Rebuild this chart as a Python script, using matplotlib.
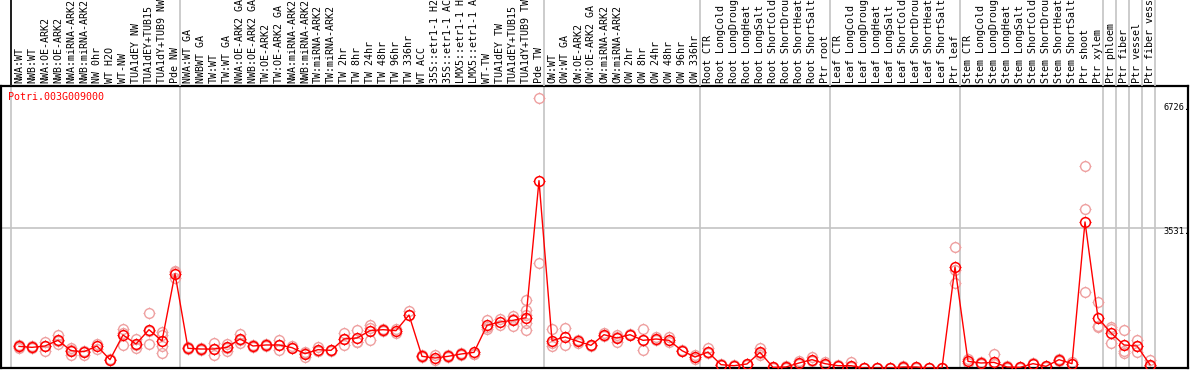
import matplotlib
matplotlib.use("Agg")
import matplotlib.pyplot as plt
import numpy as np
from matplotlib.path import Path

# sample labels, one per column
labels = [
    "NWA:WT", "NWB:WT", "NWA:OE-ARK2", "NWB:OE-ARK2", "NWA:miRNA-ARK2", "NWB:miRNA-ARK2",
    "NW 0hr", "WT H2O", "WT-NW", "TUA1dEY NW", "TUA1dEY+TUB15", "TUA1dY+TUB9 NW", "Pde NW",
    "NWA:WT GA", "NWBWT GA", "TW:WT", "TW:WT GA", "NWA:OE-ARK2 GA", "NWB:OE-ARK2 GA",
    "TW:OE-ARK2", "TW:OE-ARK2 GA", "NWA:miRNA-ARK2", "NWB:miRNA-ARK2", "TW:miRNA-ARK2",
    "TW:miRNA-ARK2", "TW 2hr", "TW 8hr", "TW 24hr", "TW 48hr", "TW 96hr", "TW 336hr",
    "WT ACC", "35S::etr1-1 H2", "35S::etr1-1 AC", "LMX5::etr1-1 H", "LMX5::etr1-1 A",
    "WT-TW", "TUA1dEY TW", "TUA1dEY+TUB15", "TUA1dY+TUB9 TW", "Pde TW",
    "OW:WT", "OW:WT GA", "OW:OE-ARK2", "OW:OE-ARK2 GA", "OW:miRNA-ARK2", "OW:miRNA-ARK2",
    "OW 2hr", "OW 8hr", "OW 24hr", "OW 48hr", "OW 96hr", "OW 336hr",
    "Root CTR", "Root LongCold", "Root LongDroug", "Root LongHeat", "Root LongSalt",
    "Root ShortCold", "Root ShortDrou", "Root ShortHeat", "Root ShortSalt", "Ptr root",
    "Leaf CTR", "Leaf LongCold", "Leaf LongDroug", "Leaf LongHeat", "Leaf LongSalt",
    "Leaf ShortCold", "Leaf ShortDrou", "Leaf ShortHeat", "Leaf ShortSalt", "Ptr leaf",
    "Stem CTR", "Stem LongCold", "Stem LongDroug", "Stem LongHeat", "Stem LongSalt",
    "Stem ShortCold", "Stem ShortDrou", "Stem ShortHeat", "Stem ShortSalt", "Ptr shoot",
    "Ptr xylem", "Ptr phloem", "Ptr fiber", "Ptr vessel", "Ptr fiber vess",
]

# first column of each sample group
group_starts = [0, 13, 41, 53, 63, 73, 84, 85, 86, 87, 88]

# mean expression per column
means = [
    622, 598, 631, 770, 516, 492, 631, 295, 902, 680, 1032, 754, 2409,
    574, 557, 557, 598, 803, 631, 656, 656, 590, 442, 541, 524, 803, 828, 1008,
    1032, 1008, 1393, 377, 336, 377, 434, 475, 1139, 1221, 1262, 1327, 4695,
    762, 853, 745, 647, 909, 828, 909, 770, 803, 770, 516, 360,
    483, 172, 147, 189, 475, 106, 115, 213, 295, 197,
    147, 147, 90, 90, 90, 115, 115, 90, 90, 2573,
    254, 213, 229, 115, 106, 197, 131, 295, 197, 3680, 1320,
    951, 656, 631, 172,
]

# individual replicates per column
replicates = [
    [650, 580, 600], [620, 580], [720, 500, 640], [893, 688, 760], [590, 401, 540],
    [520, 410], [680, 560], [320, 280], [1049, 656, 960], [803, 590, 650],
    [1450, 688, 1000], [975, 893, 630, 460], [2465, 2302, 2450],
    [600, 550], [580, 540], [705, 418, 550], [688, 516, 590], [926, 705, 780],
    [650, 610], [690, 620], [778, 541, 650], [620, 570], [480, 360, 450],
    [598, 500, 520], [540, 510], [951, 656, 800], [1025, 720, 740], [1155, 787, 1080],
    [1060, 990], [1060, 950], [1483, 1400], [400, 360], [400, 280], [420, 350],
    [460, 420], [440, 430], [1278, 1050, 1100], [1290, 1150], [1360, 1114, 1300],
    [1753, 1524, 1032, 1200, 1400], [6727, 2679],
    [1049, 622, 700], [1074, 656], [780, 700], [660, 630], [940, 880],
    [909, 720, 850], [930, 890], [1057, 524, 780], [860, 780], [860, 740],
    [540, 500], [420, 300],
    [582, 450], [190, 160], [160, 130], [200, 170], [582, 420, 460], [120, 90],
    [130, 100], [260, 180], [352, 260], [230, 170],
    [160, 130], [229, 120], [100, 80], [100, 80], [100, 80], [130, 100],
    [120, 100], [100, 80], [100, 80], [3065, 2180, 2500],
    [300, 220], [230, 200], [434, 180], [130, 100], [120, 90], [220, 180],
    [150, 110], [320, 260], [230, 180], [5056, 4006, 1959], [1721, 1131, 1100],
    [1098, 705, 1050], [1032, 500, 450], [770, 483, 640], [295, 150],
]

gene = "Potri.003G009000"
yticks = [6726, 3531, 0]
ytick_labels = ["6726.", "3531.", "0"]

RED = "#ff0000"
PINK = "#eea0a0"
GRAY = "#c4c4c4"
MONO = "DejaVu Sans Mono"

# short ticks sitting just outside the circle marker
tick_path = Path.make_compound_path(*[
    Path([[a, b], [1.28 * a, 1.28 * b]], [Path.MOVETO, Path.LINETO])
    for a, b in [(1, 0), (-1, 0), (0, 1), (0, -1)]
])


def draw_marks(ax, x, y, color, mew, z):
    ax.plot(x, y, linestyle="none", marker="o", ms=7.0, mfc="none",
            mec=color, mew=mew, zorder=z)
    ax.plot(x, y, linestyle="none", marker=tick_path, ms=9.0, mfc="none",
            mec=color, mew=0.8, zorder=z)


W, H = 1194, 370
fig = plt.figure(figsize=(W / 100, H / 100), dpi=100)

# pixel layout
left, right, top, bottom = 1, 1188, 86, 368
ax = fig.add_axes([left / W, (H - bottom) / H, (right - left) / W, (bottom - top) / H])
lab = fig.add_axes([left / W, (H - top) / H, (right - left) / W, top / H])

x0, dx = 19, 13  # pixel centre of first column and column pitch
xlim = ((left - x0) / dx, (right - x0) / dx)
ax.set_xlim(*xlim)
lab.set_xlim(*xlim)
lab.set_ylim(0, 1)
lab.axis("off")

# value scale: 3531 at y=228px, 6726 at y=98px
ppu = (228 - 98) / (6726 - 3531)
y_zero = 228 + 3531 * ppu
ax.set_ylim((y_zero - bottom) / ppu, (y_zero - top) / ppu)

for s in ax.spines.values():
    s.set_linewidth(1.6)
    s.set_color("black")
ax.set_xticks([])
ax.set_yticks([])

# group separators
for g in group_starts:
    xs = g - 8 / dx
    ax.axvline(xs, color=GRAY, lw=1.2, zorder=1)
    lab.axvline(xs, color=GRAY, lw=1.2, zorder=1)
lab.axvline(group_starts[0] - 8 / dx, color="black", lw=1.2, zorder=2)
ax.axhline(yticks[1], color=GRAY, lw=1.2, zorder=1)

# replicates
for i, reps in enumerate(replicates):
    draw_marks(ax, [i] * len(reps), reps, PINK, 1.0, 2)

# means
xs = np.arange(len(means))
ax.plot(xs, means, color=RED, lw=1.0, zorder=3)
draw_marks(ax, xs, means, RED, 1.1, 4)

# sample labels
for i, t in enumerate(labels):
    lab.text(i, 0.03, t, rotation=90, ha="center", va="bottom",
             fontsize=7.2, family=MONO, color="black")

# y labels on the right
offsets = [-9, -4, 10]
for v, t, off in zip(yticks, ytick_labels, offsets):
    ax.annotate(t, xy=(88.0, v), xytext=(0, off * 0.72), textcoords="offset points",
                ha="left", va="center", fontsize=6.2, family=MONO, color="black")

fig.text(8 / W, 1 - 97 / H, gene, ha="left", va="center", fontsize=7.2,
         family=MONO, color=RED)

fig.savefig("out.png", dpi=100)
